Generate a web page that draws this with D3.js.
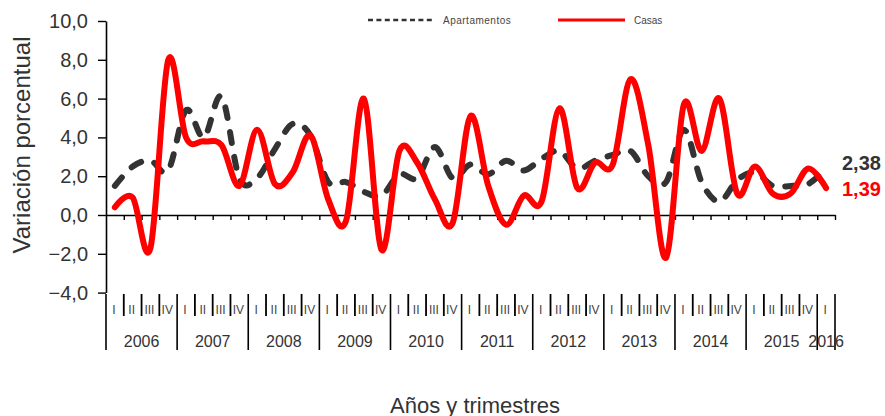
<!DOCTYPE html>
<html>
<head>
<meta charset="utf-8">
<script src="https://cdn.jsdelivr.net/npm/d3@7"></script>
<style>
  html, body { margin: 0; padding: 0; background: #fff; }
  svg { display: block; }
  svg text { font-family: "Liberation Sans", Arial, sans-serif; }
</style>
</head>
<body>
<svg id="chart" width="885" height="416"></svg>
<script>
// ---- data ----
const years = ["2006","2007","2008","2009","2010","2011","2012","2013","2014","2015","2016"];
const quarterLabels = ["I","II","III","IV"];
const quartersPerYear = [4,4,4,4,4,4,4,4,4,4,1];
const yTicks = [-4,-2,0,2,4,6,8,10];
const seriesNames = ["Apartamentos","Casas"];
const apartamentos = [1.5,2.5,2.8,2.3,5.4,4.0,6.1,1.9,1.9,3.4,4.7,4.1,1.7,1.7,1.2,1.0,2.1,1.9,3.5,1.9,2.6,2.1,2.8,2.3,2.9,3.3,2.4,2.8,3.1,3.3,2.0,1.7,4.4,1.7,0.7,1.8,2.2,1.5,1.5,1.6,2.38];
const casas = [0.4,0.9,-1.7,8.0,4.0,3.8,3.6,1.5,4.4,1.6,2.2,4.1,0.8,-0.3,6.0,-1.8,3.3,2.7,0.8,-0.4,5.1,1.5,-0.5,1.0,0.7,5.5,1.4,2.7,2.6,7.0,3.6,-2.2,5.7,3.3,6.0,1.1,2.5,1.1,1.1,2.4,1.39];

(function () {
const FONT = "'Liberation Sans', Arial, sans-serif";
const categories = [];
years.forEach((yr, yi) => {
  for (let q = 0; q < quartersPerYear[yi]; q++) categories.push({key: yr + "-" + quarterLabels[q], year: yr, q: quarterLabels[q]});
});

const svg = d3.select("#chart");
const pLeft = 106, pRight = 835, pTop = 21, pBottom = 292.6;
const fmt = v => d3.format(".1f")(v).replace(".", ",");
const fmt2 = v => d3.format(".2f")(v).replace(".", ",");

const x = d3.scaleBand().domain(categories.map(c => c.key)).range([pLeft, pRight]).padding(0);
const xIdx = d3.scaleLinear().domain([0, categories.length]).range([pLeft, pRight]);
const y = d3.scaleLinear().domain([-4, 10]).range([pBottom, pTop]);

// y axis
const yAxis = svg.append("g").attr("transform", `translate(${pLeft},0)`)
  .call(d3.axisLeft(y).tickValues(yTicks).tickFormat(fmt).tickSize(8).tickSizeOuter(0).tickPadding(10));
yAxis.attr("font-family", FONT);
yAxis.select(".domain").attr("stroke", "#000").attr("stroke-width", 1.6);
yAxis.selectAll(".tick line").attr("stroke", "#000").attr("stroke-width", 1.4);
yAxis.selectAll(".tick text").attr("font-size", 20).attr("fill", "#333");

// zero line with boundary ticks
const zeroAxis = svg.append("g").attr("transform", `translate(0,${y(0)})`)
  .call(d3.axisBottom(xIdx).tickValues(d3.range(1, categories.length + 1)).tickFormat("").tickSize(5).tickSizeOuter(0));
zeroAxis.select(".domain").attr("stroke", "#000").attr("stroke-width", 1.6);
zeroAxis.selectAll(".tick line").attr("stroke", "#000").attr("stroke-width", 1.4);

// multi-level category axis below plot
const catG = svg.append("g").attr("font-family", FONT);
const yearStarts = [];
{ let k = 0; quartersPerYear.forEach(n => { yearStarts.push(k); k += n; }); yearStarts.push(k); }
d3.range(0, categories.length + 1).forEach(k => {
  const isYear = yearStarts.includes(k);
  catG.append("line")
    .attr("x1", xIdx(k)).attr("x2", xIdx(k))
    .attr("y1", 294).attr("y2", isYear ? 350 : 316)
    .attr("stroke", "#000").attr("stroke-width", isYear ? 1.6 : 1.8);
});
catG.selectAll("text.q").data(categories).join("text")
  .attr("class", "q")
  .attr("x", d => x(d.key) + x.bandwidth() / 2 - 1)
  .attr("y", 310)
  .attr("text-anchor", "middle").attr("dominant-baseline", "central")
  .attr("font-size", 12).attr("fill", "#444")
  .text(d => d.q);
years.forEach((yr, yi) => {
  const a = xIdx(yearStarts[yi]), b = xIdx(yearStarts[yi + 1]);
  catG.append("text")
    .attr("x", (a + b) / 2).attr("y", 347)
    .attr("text-anchor", "middle")
    .attr("font-size", 16).attr("fill", "#333")
    .text(yr);
});

// lines
const line = d3.line()
  .x((d, i) => x(categories[i].key) + x.bandwidth() / 2)
  .y(d => y(d))
  .curve(d3.curveCatmullRom.alpha(0));

svg.append("path").datum(apartamentos)
  .attr("d", line).attr("fill", "none")
  .attr("stroke", "#333").attr("stroke-width", 6)
  .attr("stroke-dasharray", "11,14").attr("stroke-linecap", "round");

svg.append("path").datum(casas)
  .attr("d", line).attr("fill", "none")
  .attr("stroke", "#ff0000").attr("stroke-width", 6)
  .attr("stroke-linejoin", "round").attr("stroke-linecap", "round");

// end labels
const lastA = apartamentos[apartamentos.length - 1];
const lastC = casas[casas.length - 1];
svg.append("text").attr("x", 842).attr("y", y(lastA) - 6)
  .attr("dominant-baseline", "central").attr("font-size", 20).attr("font-weight", "bold")
  .attr("font-family", FONT).attr("fill", "#333").text(fmt2(lastA));
svg.append("text").attr("x", 842).attr("y", y(lastC) + 1)
  .attr("dominant-baseline", "central").attr("font-size", 20).attr("font-weight", "bold")
  .attr("font-family", FONT).attr("fill", "#ff0000").text(fmt2(lastC));

// legend
const lg = svg.append("g").attr("font-family", FONT);
lg.append("line").attr("x1", 368).attr("x2", 435).attr("y1", 20).attr("y2", 20)
  .attr("stroke", "#333").attr("stroke-width", 2.5).attr("stroke-dasharray", "5,3.4");
lg.append("text").attr("x", 443).attr("y", 20).attr("dominant-baseline", "central")
  .attr("font-size", 10).attr("fill", "#444").attr("letter-spacing", 0.5).text(seriesNames[0]);
lg.append("line").attr("x1", 558).attr("x2", 625).attr("y1", 20).attr("y2", 20)
  .attr("stroke", "#ff0000").attr("stroke-width", 3);
lg.append("text").attr("x", 634).attr("y", 20).attr("dominant-baseline", "central")
  .attr("font-size", 10).attr("fill", "#444").text(seriesNames[1]);

// axis titles
svg.append("text").attr("transform", "translate(21,145) rotate(-90)")
  .attr("text-anchor", "middle").attr("dominant-baseline", "central")
  .attr("font-family", FONT).attr("font-size", 24).attr("fill", "#333").text("Variación porcentual");
svg.append("text").attr("x", 475).attr("y", 405)
  .attr("text-anchor", "middle").attr("dominant-baseline", "central")
  .attr("font-family", FONT).attr("font-size", 22).attr("fill", "#333").text("Años y trimestres");
})();
</script>
</body>
</html>
